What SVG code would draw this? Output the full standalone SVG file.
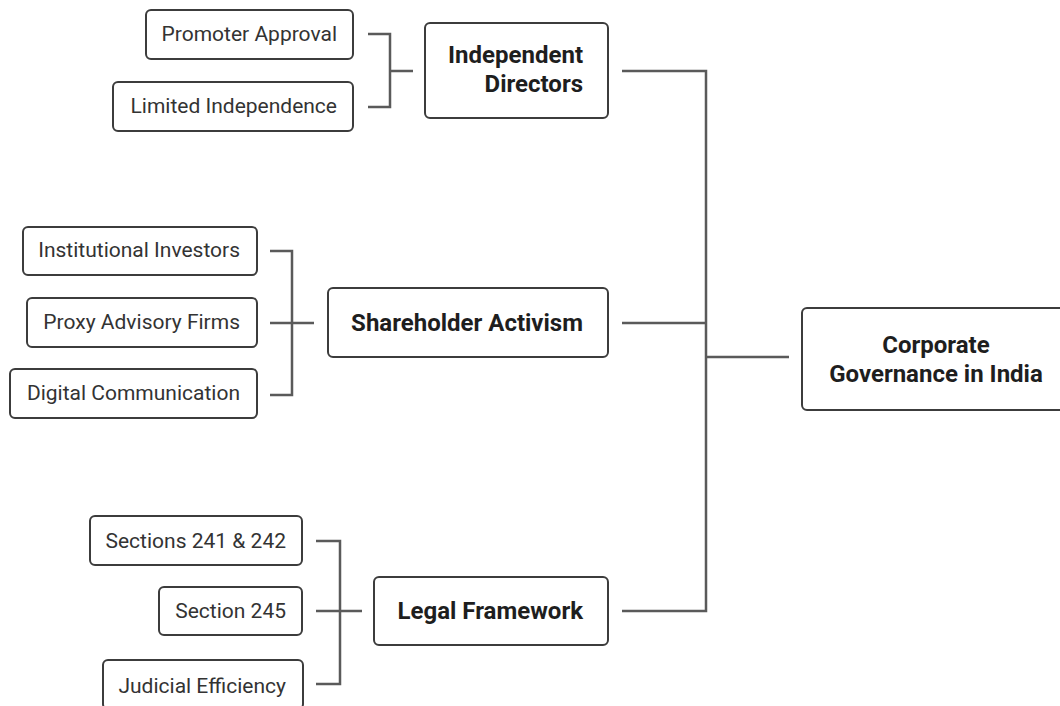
<svg xmlns="http://www.w3.org/2000/svg" width="1060" height="706" viewBox="0 0 1060 706">
<style>
.box{fill:#fff;stroke:#3c3c3c;stroke-width:2}
.main{font-family:Roboto,"Liberation Sans",sans-serif;font-weight:bold;font-size:24px;fill:#1e1e1e}
.sub{font-family:Roboto,"Liberation Sans",sans-serif;font-size:21px;fill:#333}
.end{text-anchor:end}
.mid{text-anchor:middle}
.conn{fill:none;stroke:#5a5a5a;stroke-width:2.5}
</style>
<rect width="1060" height="706" fill="#fff"/>
<g id="connectors" class="conn">
<path d="M368,34 H390 V107 H368 M390,71 H413"/>
<path d="M270,251 H292 V395 H270 M270,323 H314"/>
<path d="M316,541 H340 V684 H316 M316,611 H362"/>
<path d="M622,71 H706 V611 H622 M622,323 H706 M706,357 H789"/>
</g>
<g id="independent-directors">
<rect class="box" x="425" y="23" width="183" height="95" rx="5"/>
<text class="main end" x="583" y="63">Independent</text>
<text class="main end" x="583" y="92">Directors</text>
</g>
<g id="promoter-approval">
<rect class="box" x="146" y="10" width="207" height="49" rx="5"/>
<text class="sub end" x="337" y="41">Promoter Approval</text>
</g>
<g id="limited-independence">
<rect class="box" x="113" y="82" width="240" height="49" rx="5"/>
<text class="sub end" x="337" y="113">Limited Independence</text>
</g>
<g id="shareholder-activism">
<rect class="box" x="328" y="288" width="280" height="69" rx="5"/>
<text class="main end" x="583" y="331">Shareholder Activism</text>
</g>
<g id="institutional-investors">
<rect class="box" x="23" y="227" width="234" height="48" rx="5"/>
<text class="sub end" x="240" y="257">Institutional Investors</text>
</g>
<g id="proxy-advisory-firms">
<rect class="box" x="27" y="298" width="230" height="49" rx="5"/>
<text class="sub end" x="240" y="329">Proxy Advisory Firms</text>
</g>
<g id="digital-communication">
<rect class="box" x="10" y="369" width="247" height="49" rx="5"/>
<text class="sub end" x="240" y="400">Digital Communication</text>
</g>
<g id="legal-framework">
<rect class="box" x="374" y="577" width="234" height="68" rx="5"/>
<text class="main end" x="583" y="619">Legal Framework</text>
</g>
<g id="sections-241-242">
<rect class="box" x="90" y="516" width="212" height="49" rx="5"/>
<text class="sub end" x="286" y="548">Sections 241 &amp; 242</text>
</g>
<g id="section-245">
<rect class="box" x="159" y="587" width="143" height="48" rx="5"/>
<text class="sub end" x="286" y="618">Section 245</text>
</g>
<g id="judicial-efficiency">
<rect class="box" x="103" y="660" width="200" height="49" rx="5"/>
<text class="sub end" x="286" y="693">Judicial Efficiency</text>
</g>
<g id="corporate-governance">
<rect class="box" x="802" y="308" width="270" height="102" rx="5"/>
<text class="main mid" x="936" y="353">Corporate</text>
<text class="main mid" x="936" y="382">Governance in India</text>
</g>
</svg>
